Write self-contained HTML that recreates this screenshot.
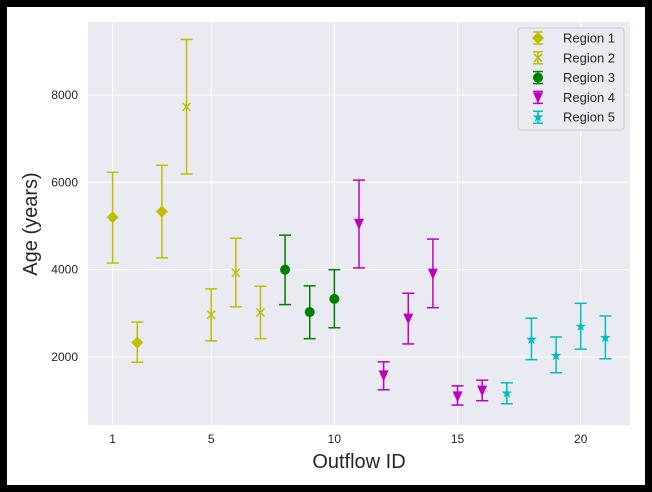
<!DOCTYPE html>
<html><head><meta charset="utf-8"><style>
html,body{margin:0;padding:0;background:#000;}
svg{display:block;font-family:"Liberation Sans",sans-serif;}
</style></head><body>
<svg id="chart" width="652" height="492">
<rect x="7" y="7" width="638" height="478" fill="#fff"/>
<rect x="88" y="22" width="542" height="403" fill="#eaeaf2"/>
<g id="grid"></g><g id="ticks"></g><g id="marks"></g>
<text x="359" y="468" font-size="20" text-anchor="middle" fill="#262626">Outflow ID</text>
<text transform="translate(37,224) rotate(-90)" font-size="20" text-anchor="middle" fill="#262626">Age (years)</text>
<g id="legend"></g>
</svg>
<script>
const regions=["Region 1","Region 2","Region 3","Region 4","Region 5"];
const colors=["#bfbf00","#bfbf00","#008000","#bf00bf","#00bfbf"];
const markers=["diamond","x","circle","tri","star"];
const r1x=[1,2,3], r1y=[5200,2330,5330], r1lo=[4150,1880,4270], r1hi=[6230,2800,6390];
const r2x=[4,5,6,7], r2y=[7730,2970,3930,3020], r2lo=[6190,2370,3150,2420], r2hi=[9270,3560,4720,3620];
const r3x=[8,9,10], r3y=[4000,3030,3330], r3lo=[3200,2420,2670], r3hi=[4790,3630,4000];
const r4x=[11,12,13,14,15,16], r4y=[5050,1580,2880,3910,1100,1230], r4lo=[4040,1250,2300,3130,900,1000], r4hi=[6050,1890,3460,4700,1340,1470];
const r5x=[17,18,19,20,21], r5y=[1170,2400,2030,2700,2440], r5lo=[930,1940,1640,2180,1960], r5hi=[1410,2890,2460,3230,2940];
const xTicks=[1,5,10,15,20], yTicks=[2000,4000,6000,8000];
const series=[[r1x,r1y,r1lo,r1hi],[r2x,r2y,r2lo,r2hi],[r3x,r3y,r3lo,r3hi],[r4x,r4y,r4lo,r4hi],[r5x,r5y,r5lo,r5hi]];
const X=v=>88+v*(542/22);
const Y=v=>425-(v-444)*(403/(9670-444));
const NS="http://www.w3.org/2000/svg";
function mk(t,a,p){const e=document.createElementNS(NS,t);for(const k in a)e.setAttribute(k,a[k]);p.appendChild(e);return e;}
const grid=document.getElementById('grid'),ticks=document.getElementById('ticks'),marks=document.getElementById('marks'),leg=document.getElementById('legend');
xTicks.forEach(t=>{const l=mk('line',{x1:X(t),x2:X(t),y1:22,y2:425,stroke:'#fff','stroke-width':1},grid);

const s=mk('text',{x:X(t),y:443,'font-size':12,'text-anchor':'middle',fill:'#262626'},ticks);s.textContent=t;
});
yTicks.forEach(t=>{const l=mk('line',{x1:88,x2:630,y1:Y(t),y2:Y(t),stroke:'#fff','stroke-width':1},grid);

const s=mk('text',{x:78,y:Y(t)+4,'font-size':12,'text-anchor':'end',fill:'#262626'},ticks);s.textContent=t;
});
function marker(type,cx,cy,c,g){
 if(type==='diamond')return mk('polygon',{points:`${cx},${cy-6} ${cx+6},${cy} ${cx},${cy+6} ${cx-6},${cy}`,fill:c},g);
 if(type==='x')return mk('path',{d:`M${cx-4},${cy-4}L${cx+4},${cy+4}M${cx-4},${cy+4}L${cx+4},${cy-4}`,stroke:c,'stroke-width':1.5,fill:'none'},g);
 if(type==='circle')return mk('circle',{cx,cy,r:5,fill:c},g);
 if(type==='tri')return mk('polygon',{points:`${cx-5},${cy-5} ${cx+5},${cy-5} ${cx},${cy+6}`,fill:c},g);
 let p=[];for(let i=0;i<10;i++){const r=i%2?2.2:5.5,a=-Math.PI/2+i*Math.PI/5;p.push((cx+r*Math.cos(a)).toFixed(1)+','+(cy+r*Math.sin(a)).toFixed(1));}
 return mk('polygon',{points:p.join(' '),fill:c},g);
}
series.forEach((s,si)=>{const c=colors[si];
 s[0].forEach((xv,i)=>{const g=mk('g',{},marks);
  
  
  const x=X(xv),y1=Y(s[2][i]),y2=Y(s[3][i]);
  mk('line',{x1:x,x2:x,y1,y2,stroke:c,'stroke-width':1.5},g);
  mk('line',{x1:x-6,x2:x+6,y1,y2:y1,stroke:c,'stroke-width':1.5},g);
  mk('line',{x1:x-6,x2:x+6,y1:y2,y2,stroke:c,'stroke-width':1.5},g);
  marker(markers[si],x,Y(s[1][i]),c,g);
 });
});
const lb=mk('rect',{x:518,y:28,width:106,height:102,rx:3,fill:'#eaeaf2',stroke:'#ccc','stroke-width':1},leg);

regions.forEach((r,i)=>{const g=mk('g',{},leg);
 
 const y=38+i*19.8,x=538,c=colors[i];
 mk('line',{x1:x,x2:x,y1:y-6,y2:y+6,stroke:c,'stroke-width':1.5},g);
 mk('line',{x1:x-5,x2:x+5,y1:y-6,y2:y-6,stroke:c,'stroke-width':1.5},g);
 mk('line',{x1:x-5,x2:x+5,y1:y+6,y2:y+6,stroke:c,'stroke-width':1.5},g);
 marker(markers[i],x,y,c,g);
 const t=mk('text',{x:563,y:y+4.5,'font-size':13,fill:'#262626'},g);t.textContent=r;
});
</script>
</body></html>
